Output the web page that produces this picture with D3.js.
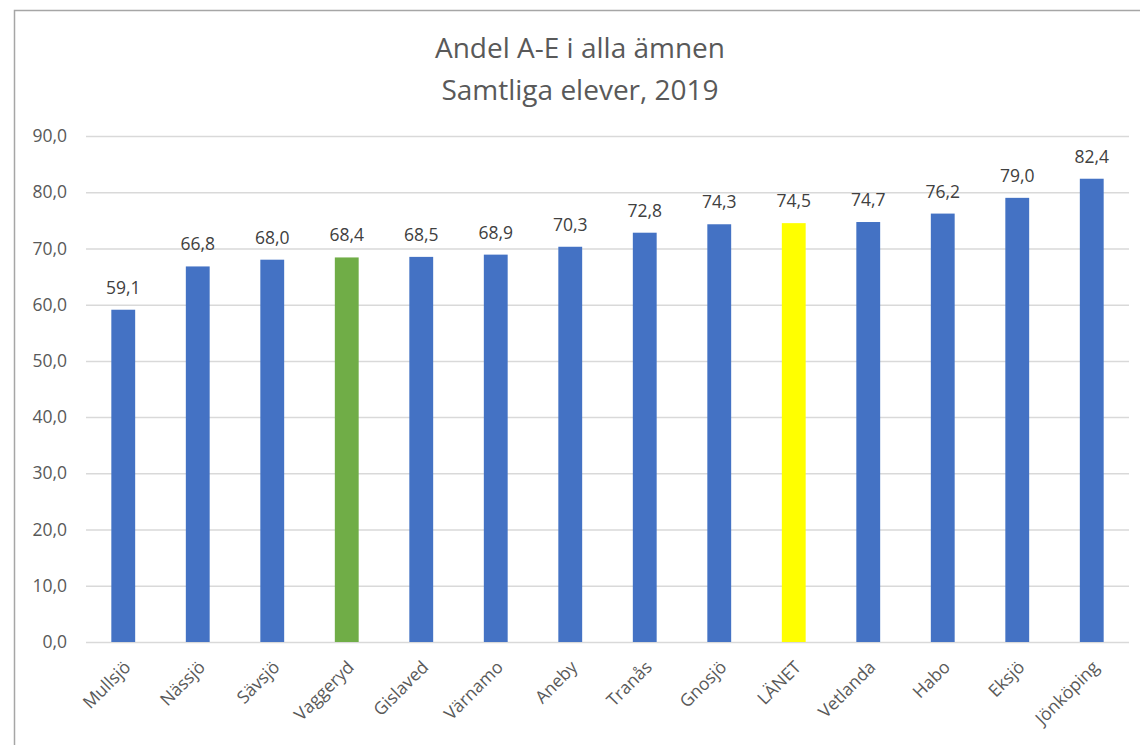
<!DOCTYPE html>
<html>
<head>
  <meta charset="utf-8">
  <style>
    body { margin: 0; background: #fff; }
    svg { font-family: "Open Sans", "Noto Sans", sans-serif; }
  </style>
</head>
<body>
<svg width="1140" height="745"></svg>
<script src="https://d3js.org/d3.v7.min.js"></script>
<script>
  // data
  var categories = ["Mullsjö", "Nässjö", "Sävsjö", "Vaggeryd", "Gislaved", "Värnamo", "Aneby",
                    "Tranås", "Gnosjö", "LÄNET", "Vetlanda", "Habo", "Eksjö", "Jönköping"];
  var values = [59.1, 66.8, 68.0, 68.4, 68.5, 68.9, 70.3, 72.8, 74.3, 74.5, 74.7, 76.2, 79.0, 82.4];
  var yTicks = [0, 10, 20, 30, 40, 50, 60, 70, 80, 90];
  var titleLines = ["Andel A-E i alla ämnen", "Samtliga elever, 2019"];

  var svg = d3.select("svg"),
      margin = {top: 136, right: 11, bottom: 103, left: 86},
      width = +svg.attr("width") - margin.left - margin.right,
      height = +svg.attr("height") - margin.top - margin.bottom;

  var fmt = function(v) { return d3.format(".1f")(v).replace(".", ","); };
  var barColor = function(c) {
    if (c === "Vaggeryd") return "#70ad47";
    if (c === "LÄNET") return "#ffff00";
    return "#4472c4";
  };
  var fontFam = "\"Open Sans\", \"Noto Sans\", sans-serif";

  // outer chart border (only top and left are inside the frame)
  svg.append("rect")
    .attr("x", 14.5).attr("y", 10.5)
    .attr("width", 1200).attr("height", 800)
    .attr("fill", "none").attr("stroke", "#a6a6a6").attr("stroke-width", 1.5);

  svg.append("text")
    .attr("x", 580).attr("text-anchor", "middle")
    .attr("fill", "#595959").attr("font-size", 28)
    .selectAll("tspan").data(titleLines).enter().append("tspan")
    .attr("x", 580)
    .attr("y", function(d, i) { return 58 + i * 42; })
    .text(function(d) { return d; });

  var x = d3.scaleBand().domain(categories).range([0, width]).paddingInner(0.68).paddingOuter(0.34),
      y = d3.scaleLinear().domain([0, 90]).range([height, 0]);

  var g = svg.append("g")
    .attr("transform", "translate(" + margin.left + "," + margin.top + ")");

  // gridlines
  g.append("g")
    .selectAll("line").data(yTicks).enter().append("line")
    .attr("x1", 0).attr("x2", width)
    .attr("y1", function(d) { return y(d) + 0.5; })
    .attr("y2", function(d) { return y(d) + 0.5; })
    .attr("stroke", "#d9d9d9").attr("stroke-width", 1.5);

  // y axis labels
  var yAxis = g.append("g")
    .call(d3.axisLeft(y).tickValues(yTicks).tickFormat(fmt).tickSize(0).tickPadding(19));
  yAxis.select(".domain").remove();
  yAxis.selectAll("text").attr("fill", "#595959").attr("font-size", 17.5)
    .attr("font-family", fontFam);

  // x axis labels
  var xAxis = g.append("g")
    .attr("transform", "translate(0," + height + ")")
    .call(d3.axisBottom(x).tickSize(0).tickPadding(0));
  xAxis.select(".domain").remove();
  xAxis.selectAll("text")
    .attr("fill", "#595959").attr("font-size", 17.5)
    .attr("font-family", fontFam)
    .attr("text-anchor", "end")
    .attr("dy", "0.35em")
    .attr("transform", "translate(4,22) rotate(-45)");

  // bars
  g.selectAll(".bar")
    .data(categories)
    .enter().append("rect")
    .attr("class", "bar")
    .attr("x", function(d) { return x(d); })
    .attr("y", function(d, i) { return y(values[i]); })
    .attr("width", x.bandwidth())
    .attr("height", function(d, i) { return height - y(values[i]); })
    .attr("fill", barColor);

  // data labels
  g.selectAll(".lbl")
    .data(categories)
    .enter().append("text")
    .attr("class", "lbl")
    .attr("x", function(d) { return x(d) + x.bandwidth() / 2; })
    .attr("y", function(d, i) { return y(values[i]) - 16; })
    .attr("text-anchor", "middle")
    .attr("fill", "#404040").attr("font-size", 17.5)
    .attr("font-family", fontFam)
    .text(function(d, i) { return fmt(values[i]); });
</script>
</body>
</html>
